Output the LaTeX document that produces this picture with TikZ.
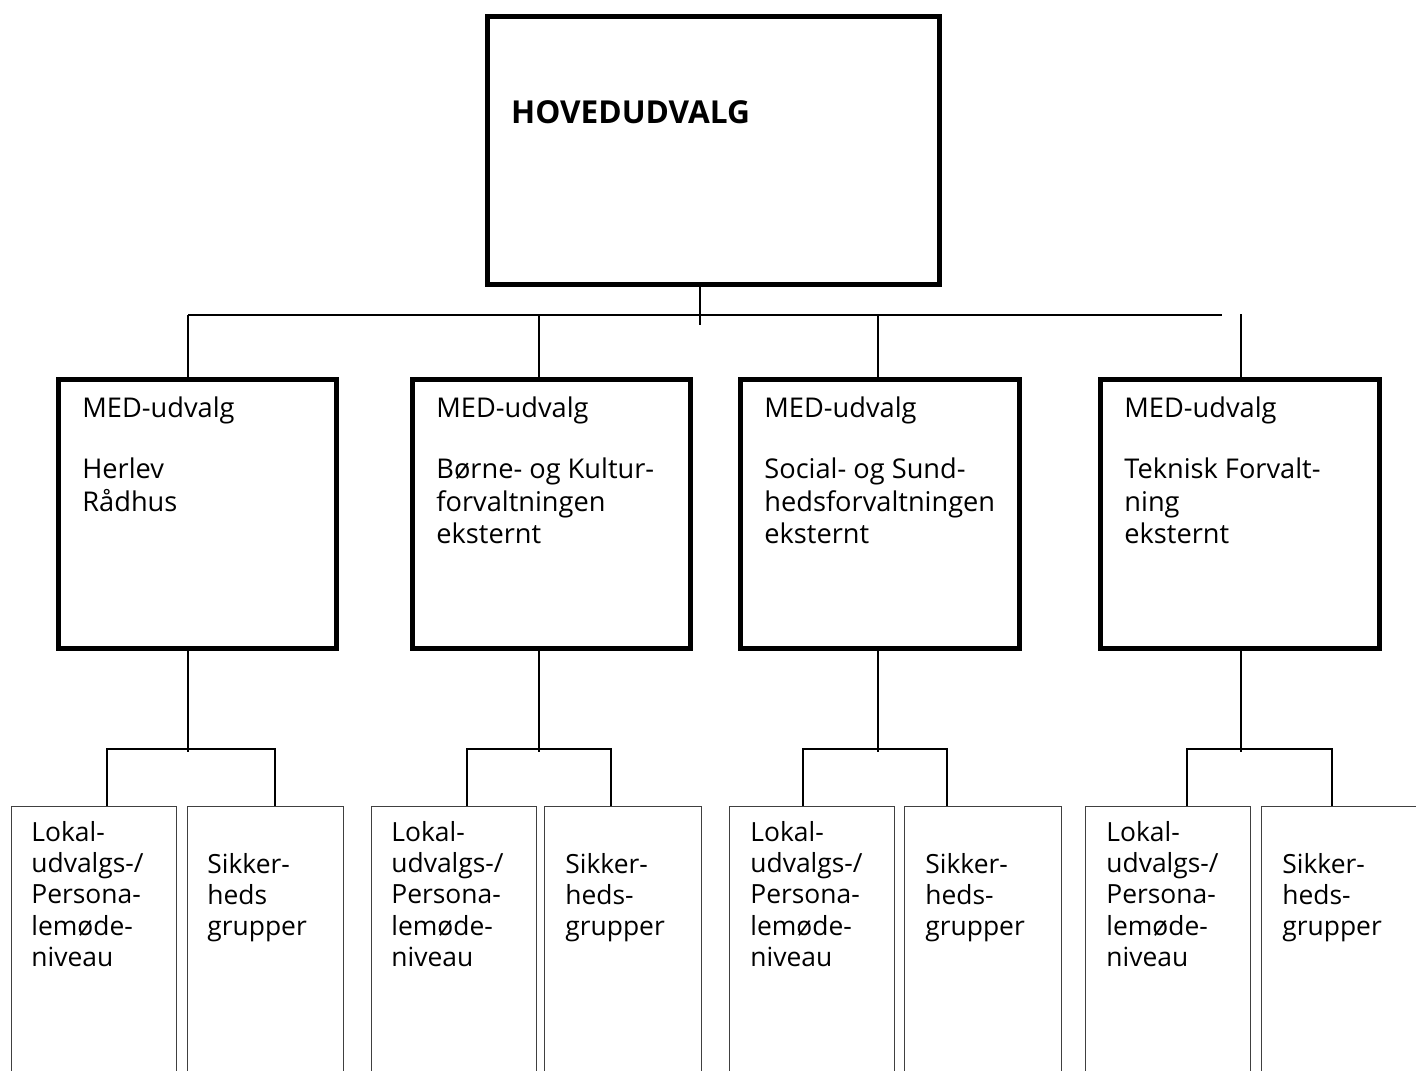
\documentclass[tikz,border=0pt]{standalone}
\usepackage{fontspec}
\setmainfont{Open Sans}
\newcommand\stackl[1]{\vtop{#1}}
\newcommand\rowl[1]{\hbox{#1}}
\begin{document}
\begin{tikzpicture}[x=0.5pt,y=-0.5pt,
  topbox/.style={draw, line width=2.5pt, inner sep=0pt, minimum width=226pt, minimum height=134pt},
  medbox/.style={draw, line width=2.5pt, inner sep=0pt, minimum width=139.3pt, minimum height=134.5pt},
  lowbox/.style={draw=black!75, line width=0.6pt, inner sep=0pt, anchor=north west, minimum height=142pt},
  lowA/.style={lowbox, minimum width=82.5pt},
  lowB/.style={lowbox, minimum width=78.25pt},
  conn/.style={line width=1pt},
  titletext/.style={anchor=base west, inner sep=0pt, font=\bfseries\fontsize{15.8}{18}\selectfont},
  medtext/.style={anchor=base west, inner sep=0pt, font=\fontsize{13.6}{16.2}\selectfont},
  lowtext/.style={anchor=base west, inner sep=0pt, font=\fontsize{13.2}{15.6}\selectfont}]
\useasboundingbox (0,0) rectangle (1416,1070);
\clip (0,0) rectangle (1416,1070);

% top
\node[topbox] (top) at (713.5,150.5) {};
\node[titletext] (toptext) at (510.7,123) {HOVEDUDVALG};

% MED boxes
\node[medbox] (med1) at (197.5,514) {};
\node[medbox] (med2) at (551.5,514) {};
\node[medbox] (med3) at (880,514) {};
\node[medbox] (med4) at (1240,514) {};
\node[medtext] (t1) at (82,417) {\stackl{\rowl{MED-udvalg}\vskip14.6pt\rowl{Herlev}\rowl{Rådhus}}};
\node[medtext] (t2) at (436,417) {\stackl{\rowl{MED-udvalg}\vskip14.6pt\rowl{Børne- og Kultur-}\rowl{forvaltningen}\rowl{eksternt}}};
\node[medtext] (t3) at (764,417) {\stackl{\rowl{MED-udvalg}\vskip14.6pt\rowl{Social- og Sund-}\rowl{hedsforvaltningen}\rowl{eksternt}}};
\node[medtext] (t4) at (1124,417) {\stackl{\rowl{MED-udvalg}\vskip14.6pt\rowl{Teknisk Forvalt-}\rowl{ning}\rowl{eksternt}}};

% lower boxes
\node[lowA] (a1) at (10.7,806) {};
\node[lowB] (b1) at (186.7,806) {};
\node[lowA] (a2) at (371,806) {};
\node[lowB] (b2) at (544,806) {};
\node[lowA] (a3) at (729,806) {};
\node[lowB] (b3) at (904,806) {};
\node[lowA] (a4) at (1085,806) {};
\node[lowB] (b4) at (1261,806) {};
\node[lowtext] (la1) at (31,841.5) {\stackl{\rowl{Lokal-}\rowl{udvalgs-/}\rowl{Persona-}\rowl{lemøde-}\rowl{niveau}}};
\node[lowtext] (lb1) at (207,873) {\stackl{\rowl{Sikker-}\rowl{heds}\rowl{grupper}}};
\node[lowtext] (la2) at (391,841.5) {\stackl{\rowl{Lokal-}\rowl{udvalgs-/}\rowl{Persona-}\rowl{lemøde-}\rowl{niveau}}};
\node[lowtext] (lb2) at (565,873) {\stackl{\rowl{Sikker-}\rowl{heds-}\rowl{grupper}}};
\node[lowtext] (la3) at (750,841.5) {\stackl{\rowl{Lokal-}\rowl{udvalgs-/}\rowl{Persona-}\rowl{lemøde-}\rowl{niveau}}};
\node[lowtext] (lb3) at (925,873) {\stackl{\rowl{Sikker-}\rowl{heds-}\rowl{grupper}}};
\node[lowtext] (la4) at (1106,841.5) {\stackl{\rowl{Lokal-}\rowl{udvalgs-/}\rowl{Persona-}\rowl{lemøde-}\rowl{niveau}}};
\node[lowtext] (lb4) at (1282,873) {\stackl{\rowl{Sikker-}\rowl{heds-}\rowl{grupper}}};

% upper connectors
\coordinate (busL) at (188,315);
\coordinate (busR) at (1222,315);
\coordinate (tj) at (700,325);
\coordinate (d2) at (539,315);
\coordinate (d3) at (878,315);
\coordinate (d4) at (1241,314);
\draw[conn] (busL) -- (busR);
\draw[conn] (tj |- top.south) -- (tj);
\draw[conn] (busL) -- (busL |- med1.north);
\draw[conn] (d2) -- (d2 |- med2.north);
\draw[conn] (d3) -- (d3 |- med3.north);
\draw[conn] (d4) -- (d4 |- med4.north);

% lower connectors
\coordinate (v1) at (188,752);  \coordinate (jl1) at (107,749);  \coordinate (jr1) at (275,749);
\coordinate (v2) at (539,752);  \coordinate (jl2) at (467,749);  \coordinate (jr2) at (611,749);
\coordinate (v3) at (878,752);  \coordinate (jl3) at (803,749);  \coordinate (jr3) at (947,749);
\coordinate (v4) at (1241,752); \coordinate (jl4) at (1187,749); \coordinate (jr4) at (1332,749);
\foreach \i in {1,2,3,4}{
  \draw[conn] (v\i |- med\i.south) -- (v\i);
  \draw[conn] (jl\i |- a\i.north) -- (jl\i) -- (jr\i) -- (jr\i |- b\i.north);
}
\end{tikzpicture}
\end{document}
